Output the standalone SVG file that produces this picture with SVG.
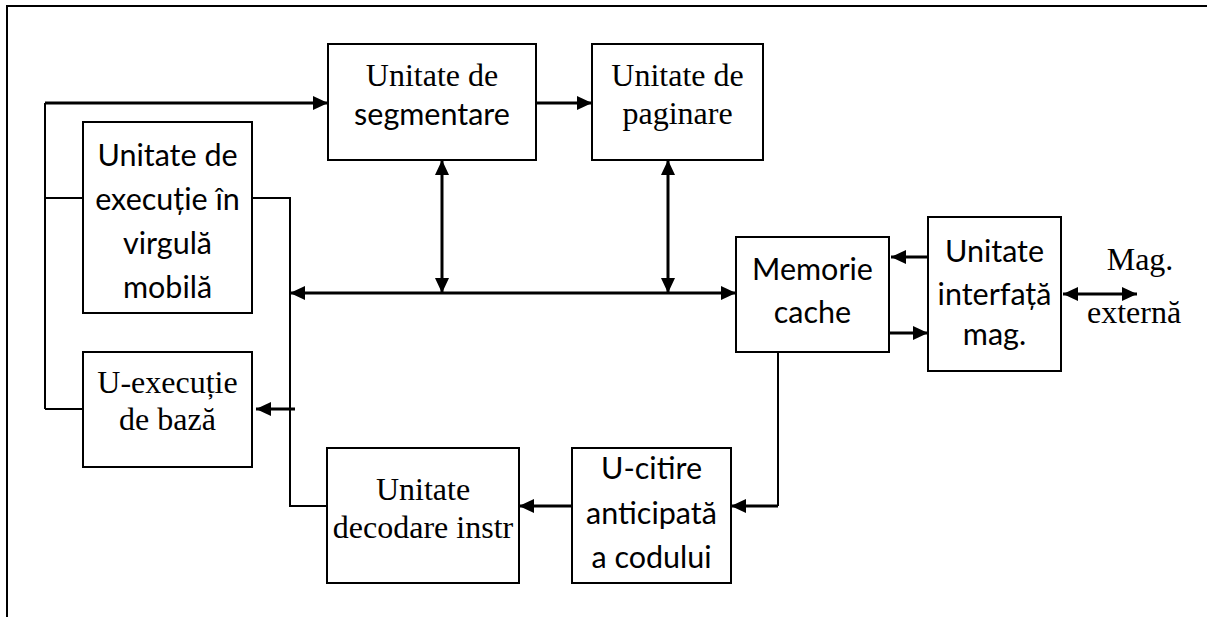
<svg xmlns="http://www.w3.org/2000/svg" width="1207" height="617" viewBox="0 0 1207 617">
<style>
.box{fill:#fff;stroke:#000;stroke-width:2}
.thin{fill:none;stroke:#000;stroke-width:2}
.thick{fill:none;stroke:#000;stroke-width:3}
.se{font-family:"Liberation Serif","Times New Roman",serif;font-size:32px;fill:#000;text-anchor:middle}
.sa{font-family:Lato,"Liberation Sans",sans-serif;font-size:30.5px;fill:#000;text-anchor:middle}
</style>
<defs>
<marker id="ah" viewBox="0 0 15 14" refX="15" refY="7" markerWidth="15" markerHeight="14" orient="auto-start-reverse" markerUnits="userSpaceOnUse"><path d="M0,0 L15,7 L0,14 z" fill="#000"/></marker>
</defs>
<rect width="1207" height="617" fill="#fff"/>
<g id="frame">
<path class="thin" d="M7,617 V6 H1207"/>
</g>
<g id="connectors">
<path class="thin" d="M45,409 V103"/>
<path class="thick" d="M45,103 H328" marker-end="url(#ah)"/>
<path class="thin" d="M45,198 H83"/>
<path class="thin" d="M45,409 H83"/>
<path class="thin" d="M252,198 H290 V506 H327"/>
<path class="thick" d="M536,103 H592" marker-end="url(#ah)"/>
<path class="thick" d="M442,160 V293" marker-start="url(#ah)" marker-end="url(#ah)"/>
<path class="thick" d="M668,160 V293" marker-start="url(#ah)" marker-end="url(#ah)"/>
<path class="thick" d="M290,293 H736" marker-start="url(#ah)" marker-end="url(#ah)"/>
<path class="thick" d="M295,409 H256" marker-end="url(#ah)"/>
<path class="thick" d="M928,257 H891" marker-end="url(#ah)"/>
<path class="thick" d="M889,333 H928" marker-end="url(#ah)"/>
<path class="thick" d="M1063,294 H1137" marker-start="url(#ah)" marker-end="url(#ah)"/>
<path class="thin" d="M778,352 V506"/>
<path class="thick" d="M778,506 H731" marker-end="url(#ah)"/>
<path class="thick" d="M572,506 H519" marker-end="url(#ah)"/>
</g>
<g id="segmentare">
<rect class="box" x="328" y="44" width="208" height="116"/>
<text class="se" x="432" y="86">Unitate de</text>
<text class="sa" x="432" y="125">segmentare</text>
</g>
<g id="paginare">
<rect class="box" x="592" y="44" width="171" height="116"/>
<text class="se" x="677.5" y="86">Unitate de</text>
<text class="se" x="677.5" y="124">paginare</text>
</g>
<g id="virgula-mobila">
<rect class="box" x="83" y="122" width="169" height="191"/>
<text class="sa" x="167.5" y="166">Unitate de</text>
<text class="sa" x="167.5" y="210">execuție în</text>
<text class="sa" x="167.5" y="254">virgulă</text>
<text class="sa" x="167.5" y="298">mobilă</text>
</g>
<g id="executie-baza">
<rect class="box" x="83" y="352" width="169" height="115"/>
<text class="se" x="167.5" y="393">U-execuție</text>
<text class="se" x="167.5" y="430">de bază</text>
</g>
<g id="cache">
<rect class="box" x="736" y="237" width="153" height="115"/>
<text class="sa" x="812.5" y="280">Memorie</text>
<text class="sa" x="812.5" y="323">cache</text>
</g>
<g id="interfata">
<rect class="box" x="928" y="217" width="133" height="154"/>
<text class="sa" x="994.5" y="262">Unitate</text>
<text class="sa" x="994.5" y="305">interfață</text>
<text class="sa" x="994.5" y="345">mag.</text>
</g>
<g id="mag-externa">
<text class="se" x="1140" y="270">Mag.</text>
<text class="se" x="1134" y="323">externă</text>
</g>
<g id="decodare">
<rect class="box" x="327" y="448" width="192" height="135"/>
<text class="se" x="423" y="500">Unitate</text>
<text class="se" x="423" y="538">decodare instr</text>
</g>
<g id="citire">
<rect class="box" x="572" y="448" width="159" height="135"/>
<text class="sa" x="651.5" y="479">U-citire</text>
<text class="sa" x="651.5" y="524">anticipată</text>
<text class="sa" x="651.5" y="568">a codului</text>
</g>
</svg>
